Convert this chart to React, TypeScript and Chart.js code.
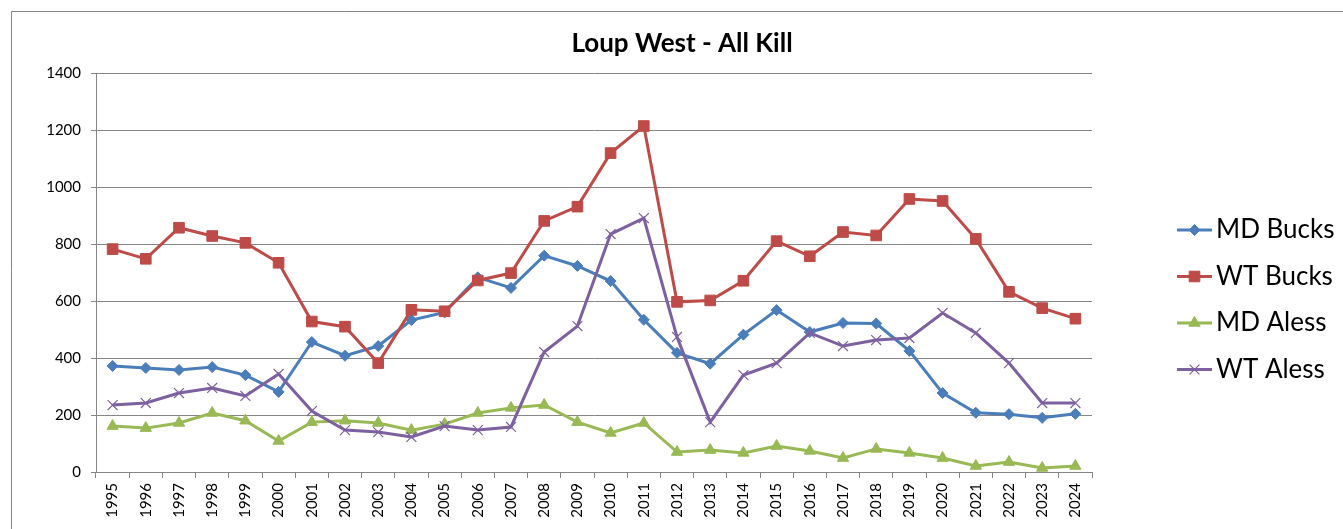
import React, { useEffect, useRef } from "react";
import { Chart, registerables } from "chart.js";
import { drawPoint } from "chart.js/helpers";

Chart.register(...registerables);

const chartTitle = "Loup West - All Kill";
const years = [
  "1995", "1996", "1997", "1998", "1999", "2000", "2001", "2002", "2003", "2004",
  "2005", "2006", "2007", "2008", "2009", "2010", "2011", "2012", "2013", "2014",
  "2015", "2016", "2017", "2018", "2019", "2020", "2021", "2022", "2023", "2024",
];
const mdBucks = [372, 365, 358, 368, 340, 281, 456, 408, 442, 533, 560, 683, 646, 759, 723, 670, 534, 418, 380, 482, 568, 491, 523, 521, 425, 277, 208, 203, 190, 204];
const wtBucks = [782, 748, 857, 828, 804, 734, 528, 510, 382, 569, 564, 672, 698, 881, 931, 1119, 1214, 597, 602, 671, 810, 757, 842, 830, 958, 951, 818, 632, 575, 538];
const mdAless = [161, 154, 172, 207, 180, 109, 175, 180, 172, 147, 168, 207, 225, 235, 175, 137, 172, 70, 77, 67, 91, 74, 49, 81, 67, 49, 21, 35, 14, 21];
const wtAless = [235, 242, 277, 295, 267, 344, 214, 147, 140, 123, 161, 147, 158, 421, 512, 835, 891, 474, 175, 340, 382, 488, 442, 463, 470, 558, 488, 382, 242, 242];
const seriesNames = ["MD Bucks", "WT Bucks", "MD Aless", "WT Aless"];
const yMin = 0;
const yMax = 1400;
const yStep = 200;

const seriesData = [mdBucks, wtBucks, mdAless, wtAless];
const colors = ["#4A7EBB", "#BE4B48", "#98B954", "#7D60A0"];
const pointStyles = ["rectRot", "rect", "triangle", "crossRot"];
const pointRadii = [5.5, 7.5, 6.5, 7];
const pointBorders = [1, 1, 1, 1.2];

const W = 1343;
const H = 529;
const FONT = "Lato, 'Open Sans', sans-serif";
const GRID = "#868686";

const decorPlugin = {
  id: "decor",
  beforeDraw(chart: any) {
    const ctx = chart.ctx;
    ctx.save();
    ctx.fillStyle = "#ffffff";
    ctx.fillRect(0, 0, W, H);
    ctx.strokeStyle = GRID;
    ctx.lineWidth = 1;
    ctx.beginPath();
    ctx.moveTo(11.5, H + 5);
    ctx.lineTo(11.5, 11.5);
    ctx.lineTo(W + 5, 11.5);
    ctx.stroke();
    ctx.restore();
  },
  afterDraw(chart: any) {
    const ctx = chart.ctx;
    ctx.save();
    // title
    ctx.fillStyle = "#000000";
    ctx.font = `bold 26px ${FONT}`;
    ctx.textAlign = "center";
    ctx.textBaseline = "middle";
    ctx.fillText(chartTitle, 682, 44);
    // legend
    const x0 = 1177;
    const x1 = 1212;
    const yStart = 230;
    const gap = 46.5;
    seriesNames.forEach((name, i) => {
      const y = yStart + i * gap;
      ctx.strokeStyle = colors[i];
      ctx.lineWidth = 3;
      ctx.beginPath();
      ctx.moveTo(x0, y);
      ctx.lineTo(x1, y);
      ctx.stroke();
      ctx.fillStyle = colors[i];
      ctx.strokeStyle = colors[i];
      ctx.lineWidth = pointBorders[i];
      drawPoint(ctx, { pointStyle: pointStyles[i] as any, rotation: 0, radius: pointRadii[i], borderWidth: pointBorders[i] }, (x0 + x1) / 2, y);
      ctx.fillStyle = "#000000";
      ctx.font = `26px ${FONT}`;
      ctx.textAlign = "left";
      ctx.textBaseline = "middle";
      ctx.fillText(name, 1216, y);
    });
    ctx.restore();
  },
};

export default function App() {
  const ref = useRef<HTMLCanvasElement | null>(null);
  useEffect(() => {
    if (!ref.current) return;
    const chart = new Chart(ref.current, {
      type: "line",
      data: {
        labels: years,
        datasets: seriesData.map((d, i) => ({
          label: seriesNames[i],
          data: d,
          borderColor: colors[i],
          backgroundColor: colors[i],
          borderWidth: 3,
          pointStyle: pointStyles[i] as any,
          pointRadius: pointRadii[i],
          pointBorderWidth: pointBorders[i],
          pointBackgroundColor: colors[i],
          pointBorderColor: colors[i],
          tension: 0,
          order: 4 - i,
        })),
      },
      options: {
        responsive: false,
        devicePixelRatio: 1,
        animation: false,
        events: [],
        layout: { padding: { top: 73, right: 251, left: 0, bottom: 0 } },
        plugins: {
          legend: { display: false },
          title: { display: false },
          tooltip: { enabled: false },
        },
        scales: {
          x: {
            offset: true,
            grid: { offset: true, drawOnChartArea: false, drawTicks: true, tickLength: 6, color: GRID },
            border: { color: GRID, width: 1 },
            ticks: {
              minRotation: 90,
              maxRotation: 90,
              autoSkip: false,
              padding: 5,
              color: "#000000",
              font: { family: FONT, size: 15 },
            },
            afterFit: (s: any) => {
              s.height = 57;
            },
          },
          y: {
            min: yMin,
            max: yMax,
            ticks: {
              stepSize: yStep,
              padding: 10,
              color: "#000000",
              font: { family: FONT, size: 15 },
              callback: (v: any) => String(v),
            },
            grid: { color: GRID, tickLength: 5 },
            border: { color: GRID, width: 1 },
            afterFit: (s: any) => {
              s.width = 96;
            },
          },
        },
      },
      plugins: [decorPlugin],
    });
    return () => chart.destroy();
  }, []);
  return (
    <div style={{ position: "fixed", left: 0, top: 0, width: W, height: H, overflow: "hidden", background: "#fff" }}>
      <canvas ref={ref} width={W} height={H} style={{ display: "block", width: W, height: H }} />
    </div>
  );
}
